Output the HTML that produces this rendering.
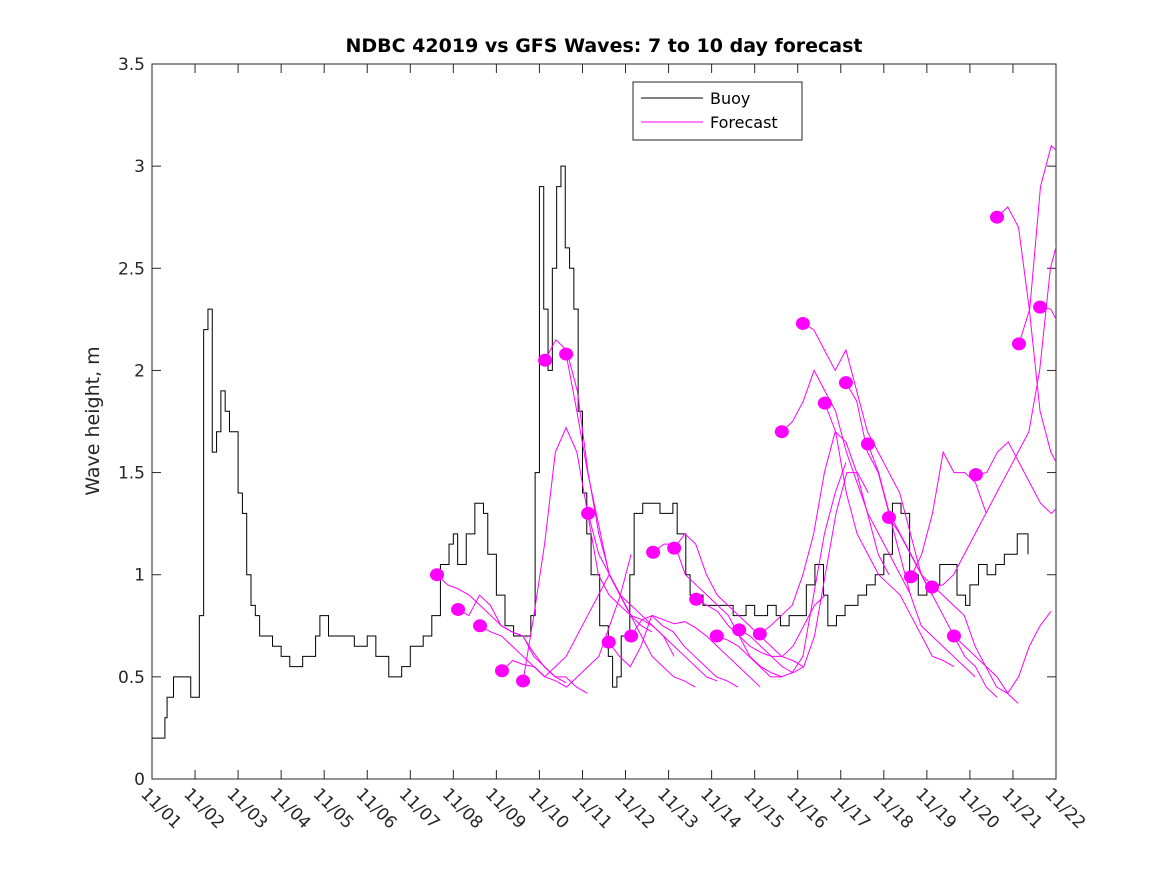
<!DOCTYPE html>
<html><head><meta charset="utf-8"><style>
body{margin:0;background:#fff;}
svg{display:block;font-family:"DejaVu Sans","Liberation Sans",sans-serif;}
</style></head><body>
<svg id="chart" width="1167" height="875">
<rect x="0" y="0" width="1167" height="875" fill="#fff"/>
<rect x="152" y="64" width="904" height="715" fill="#fff" stroke="#262626" stroke-width="1"/>
<text x="604" y="52" text-anchor="middle" font-size="19" font-weight="bold" fill="#000">NDBC 42019 vs GFS Waves: 7 to 10 day forecast</text>
<text transform="translate(99,421) rotate(-90)" text-anchor="middle" font-size="19" fill="#262626">Wave height, m</text>
<g id="axes"></g>
<defs><clipPath id="clip"><rect x="152" y="64" width="904" height="715"/></clipPath></defs>
<g id="series" clip-path="url(#clip)"></g>
<g>
<rect x="633" y="82" width="169" height="58" fill="#fff" stroke="#262626" stroke-width="1"/>
<line x1="641" y1="98" x2="703" y2="98" stroke="#000" stroke-width="1"/>
<text x="710" y="104" font-size="16" fill="#000">Buoy</text>
<line x1="641" y1="122" x2="703" y2="122" stroke="#ff00ff" stroke-width="1"/>
<text x="710" y="128" font-size="16" fill="#000">Forecast</text>
</g>
</svg>
<script>
const xTickLabels=["11/01","11/02","11/03","11/04","11/05","11/06","11/07","11/08","11/09","11/10","11/11","11/12","11/13","11/14","11/15","11/16","11/17","11/18","11/19","11/20","11/21","11/22"];
const yTicks=[0,0.5,1,1.5,2,2.5,3,3.5];
const yTickLabels=["0","0.5","1","1.5","2","2.5","3","3.5"];
const buoyDays=[0,0.3,0.35,0.5,0.9,1.1,1.2,1.3,1.4,1.5,1.6,1.7,1.8,1.9,2.0,2.1,2.2,2.3,2.4,2.5,2.7,2.8,3.0,3.2,3.5,3.7,3.8,3.9,4.1,4.5,4.7,5.0,5.2,5.5,5.8,6.0,6.3,6.5,6.7,6.9,7.0,7.1,7.3,7.5,7.7,7.8,8.0,8.2,8.4,8.7,8.8,8.9,9.0,9.1,9.2,9.3,9.4,9.5,9.6,9.7,9.8,9.9,10.0,10.1,10.2,10.4,10.6,10.7,10.8,10.9,11.1,11.2,11.4,11.6,11.8,12.0,12.1,12.2,12.4,12.5,12.8,13.0,13.2,13.5,13.8,14.0,14.3,14.5,14.6,14.8,15.0,15.2,15.4,15.6,15.7,15.9,16.1,16.4,16.6,16.8,17.0,17.2,17.4,17.6,17.8,18.0,18.3,18.5,18.7,18.9,19.0,19.2,19.4,19.6,19.8,19.9,20.1,20.35];
const buoyValues=[0.2,0.3,0.4,0.5,0.4,0.8,2.2,2.3,1.6,1.7,1.9,1.8,1.7,1.7,1.4,1.3,1.0,0.85,0.8,0.7,0.7,0.65,0.6,0.55,0.6,0.6,0.7,0.8,0.7,0.7,0.65,0.7,0.6,0.5,0.55,0.65,0.7,0.8,1.05,1.15,1.2,1.05,1.2,1.35,1.3,1.1,0.9,0.75,0.7,0.7,0.8,1.5,2.9,2.3,2.0,2.5,2.9,3.0,2.6,2.5,2.3,1.8,1.4,1.2,1.0,0.75,0.6,0.45,0.5,0.7,1.0,1.3,1.35,1.35,1.3,1.3,1.35,1.2,1.0,0.9,0.85,0.85,0.85,0.8,0.85,0.8,0.85,0.8,0.75,0.8,0.8,0.95,1.05,0.9,0.75,0.8,0.85,0.9,0.95,1.0,1.1,1.35,1.3,1.0,0.9,0.95,1.05,1.05,0.9,0.85,0.95,1.05,1.0,1.05,1.1,1.1,1.2,1.1];
const fcStartDays=[6.62,7.11,7.62,8.13,8.62,9.13,9.62,10.13,10.61,11.13,11.64,12.13,12.64,13.12,13.64,14.12,14.63,15.12,15.63,16.12,16.63,17.12,17.63,18.12,18.63,19.14,19.63,20.14,20.63];
const fcValues=[
[1.0,0.95,0.93,0.9,0.85,0.8,0.75,0.72,0.7,0.6,0.55,0.5,0.47],
[0.83,0.8,0.9,0.85,0.75,0.72,0.7,0.62,0.55,0.5,0.5,0.45,0.42],
[0.75,0.72,0.7,0.65,0.6,0.55,0.5,0.55,0.6,0.7,0.8,0.9,1.0],
[0.53,0.58,0.56,0.55,0.5,0.48,0.45,0.5,0.55,0.6,0.75,0.9,1.1],
[0.48,0.8,1.15,1.6,1.72,1.6,1.3,1.0,0.9,0.85,0.8,0.75,0.72],
[2.05,2.15,2.1,1.9,1.5,1.2,1.0,0.9,0.85,0.8,0.75,0.7,0.6],
[2.08,1.8,1.5,1.25,1.0,0.9,0.8,0.7,0.6,0.55,0.5,0.48,0.45],
[1.3,1.1,1.0,0.9,0.8,0.78,0.75,0.7,0.65,0.6,0.55,0.5,0.48],
[0.67,0.6,0.55,0.65,0.8,0.75,0.72,0.65,0.6,0.55,0.5,0.48,0.45],
[0.7,0.78,0.8,0.78,0.76,0.77,0.74,0.7,0.65,0.6,0.55,0.5,0.45],
[1.11,1.15,1.15,1.0,0.95,0.9,0.85,0.8,0.7,0.6,0.55,0.52,0.5],
[1.13,1.2,1.15,1.0,0.9,0.85,0.8,0.75,0.7,0.65,0.6,0.58,0.55],
[0.88,0.85,0.82,0.75,0.7,0.65,0.62,0.6,0.6,0.65,0.75,0.85,0.9],
[0.7,0.68,0.65,0.6,0.55,0.5,0.5,0.52,0.6,0.9,1.2,1.4,1.55],
[0.73,0.7,0.65,0.6,0.55,0.52,0.55,0.7,1.0,1.3,1.5,1.5,1.4],
[0.71,0.75,0.8,0.85,1.0,1.2,1.5,1.7,1.65,1.5,1.3,1.1,1.0],
[1.7,1.75,1.85,2.0,1.9,1.8,1.6,1.45,1.3,1.2,1.1,1.0,0.9],
[2.23,2.2,2.1,2.0,2.1,1.9,1.7,1.6,1.5,1.4,1.2,1.0,0.9],
[1.84,1.7,1.4,1.2,1.1,1.0,0.95,0.9,0.8,0.7,0.6,0.58,0.55],
[1.94,1.85,1.6,1.5,1.3,1.1,0.9,0.75,0.7,0.65,0.6,0.55,0.5],
[1.64,1.5,1.3,1.2,1.1,1.0,0.9,0.8,0.7,0.6,0.55,0.45,0.4],
[1.28,1.2,1.1,1.0,0.95,0.9,0.85,0.8,0.65,0.55,0.45,0.42,0.37],
[0.99,1.1,1.3,1.6,1.5,1.5,1.45,1.3],
[0.94,0.95,1.0,1.1,1.2,1.3,1.4,1.5,1.6,1.7,2.0,2.5,2.7],
[0.7,0.65,0.6,0.55,0.5,0.42,0.5,0.65,0.75,0.82],
[1.49,1.5,1.6,1.65,1.55,1.45,1.35,1.3,1.35,1.4,1.38,1.35],
[2.75,2.8,2.7,2.3,1.8,1.6,1.5,1.4],
[2.13,2.3,2.9,3.1,3.05,3.0,2.7,2.3],
[2.31,2.3,2.2,2.0,1.9,1.7,1.6]
];
const fcStep=0.25;
const X0=152,X1=1056,Y0=779,Y1=64;
const xs=d=>X0+d*(X1-X0)/21;
const ys=v=>Y0-v*(Y0-Y1)/3.5;
const NS="http://www.w3.org/2000/svg";
const axes=document.getElementById('axes'), series=document.getElementById('series');
function mk(tag,attrs,parent){const e=document.createElementNS(NS,tag);for(const k in attrs)e.setAttribute(k,attrs[k]);parent.appendChild(e);return e;}
yTicks.forEach((v,i)=>{
  const y=ys(v);
  const t1=mk('line',{x1:X0,y1:y,x2:X0+9,y2:y,stroke:'#262626'},axes);
  
  
  mk('line',{x1:X1,y1:y,x2:X1-9,y2:y,stroke:'#262626'},axes);
  const t=mk('text',{x:X0-7,y:y+6,'text-anchor':'end','font-size':17,fill:'#262626'},axes);
  t.textContent=yTickLabels[i];
  
  
});
xTickLabels.forEach((lab,i)=>{
  const x=xs(i);
  const t1=mk('line',{x1:x,y1:Y0,x2:x,y2:Y0-9,stroke:'#262626'},axes);
  
  
  mk('line',{x1:x,y1:Y1,x2:x,y2:Y1+9,stroke:'#262626'},axes);
  const t=mk('text',{transform:`translate(${x-12},${Y0+16}) rotate(45)`,'font-size':17,fill:'#262626'},axes);
  t.textContent=lab;
  
  
});
let d='';
buoyDays.forEach((day,i)=>{
  const x=xs(day),y=ys(buoyValues[i]);
  if(i===0)d+=`M${x},${y}`;else d+=`H${x}V${y}`;
});
const bl=mk('path',{d:d,fill:'none',stroke:'#000','stroke-width':1},series);


fcValues.forEach((vals,k)=>{
  const s=fcStartDays[k];
  const pts=vals.map((v,j)=>`${xs(s+j*fcStep)},${ys(v)}`).join(' ');
  const pl=mk('polyline',{points:pts,fill:'none',stroke:'#ff00ff','stroke-width':1},series);
  
  
});
fcValues.forEach((vals,k)=>{
  const c=mk('ellipse',{cx:xs(fcStartDays[k]),cy:ys(vals[0]),rx:7,ry:6.5,fill:'#ff00ff'},series);
  
  
});
</script>
</body></html>
